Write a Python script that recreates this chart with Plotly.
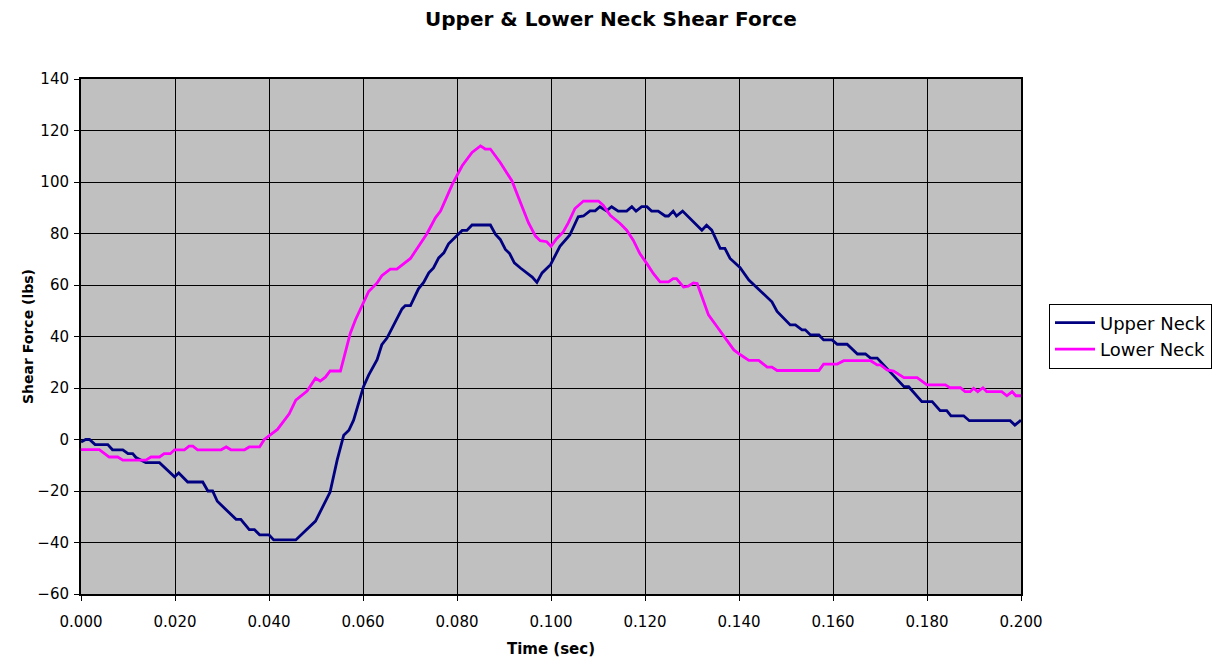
import plotly.graph_objects as go

upper_t = [0.000, 0.001, 0.0018, 0.003, 0.0057, 0.0067, 0.0089, 0.010, 0.011, 0.0117, 0.0138, 0.0167,
           0.0199, 0.0208, 0.0227, 0.0259, 0.027, 0.028, 0.029, 0.033, 0.034, 0.0358, 0.0369, 0.038,
           0.040, 0.041, 0.0457, 0.0499, 0.053, 0.0545, 0.0559, 0.057, 0.058, 0.0601, 0.0612, 0.063,
           0.064, 0.0651, 0.0683, 0.069, 0.0701, 0.0718, 0.0729, 0.074, 0.075, 0.0761, 0.0772, 0.0782,
           0.080, 0.0811, 0.0821, 0.0832, 0.0871, 0.0882, 0.0892, 0.0903, 0.0912, 0.0922, 0.0935, 0.0949,
           0.096, 0.097, 0.0981, 0.0999, 0.1019, 0.104, 0.1058, 0.1069, 0.1083, 0.1094, 0.1104, 0.1118,
           0.1129, 0.1143, 0.1161, 0.1172, 0.1181, 0.1193, 0.1204, 0.1214, 0.1228, 0.1243, 0.125, 0.126,
           0.1267, 0.128, 0.1296, 0.1321, 0.1331, 0.1342, 0.136, 0.137, 0.1381, 0.1402, 0.1421, 0.147,
           0.1481, 0.1509, 0.152, 0.1534, 0.1541, 0.1552, 0.157, 0.158, 0.1598, 0.1609, 0.163, 0.1652,
           0.1669, 0.168, 0.1694, 0.1751, 0.1761, 0.1789, 0.1811, 0.1828, 0.1842, 0.1851, 0.1878, 0.189,
           0.1977, 0.1987, 0.200]
upper_v = [-1, 0, 0, -2, -2, -4, -4, -5.5, -5.5, -7, -9, -9,
           -14.5, -13, -16.5, -16.5, -20, -20, -24, -31, -31, -35, -35, -37,
           -37, -39, -39, -31.7, -20.4, -8, 1.7, 3.6, 7.5, 20.5, 25, 31,
           36.8, 39.4, 50.7, 52, 52, 58.5, 61, 64.7, 66.6, 70.5, 72.5, 76,
           79.2, 81.2, 81.2, 83.3, 83.3, 79.6, 77.7, 73.8, 72.2, 68.6, 66.6, 64.7,
           63.1, 61, 64.7, 67.9, 75, 79.4, 86.5, 86.8, 88.8, 88.8, 90.4, 88.8,
           90.4, 88.7, 88.7, 90.4, 88.7, 90.4, 90.4, 88.7, 88.7, 86.8, 86.8, 88.7,
           86.8, 88.7, 85.8, 81.3, 83.2, 81.3, 74.2, 74.2, 70.3, 66.8, 61.9, 53.5,
           49.7, 44.5, 44.5, 42.6, 42.6, 40.6, 40.6, 38.7, 38.7, 37, 37, 33.2,
           33.2, 31.6, 31.6, 20.5, 20.5, 14.7, 14.7, 11.2, 11.2, 9.2, 9.2, 7.3,
           7.3, 5.6, 7.5]

lower_t = [0.000, 0.0039, 0.006, 0.0078, 0.0089, 0.0138, 0.0149, 0.0167, 0.0177, 0.019, 0.0199, 0.022,
           0.023, 0.0238, 0.0248, 0.0298, 0.0309, 0.0319, 0.0348, 0.0358, 0.038, 0.039, 0.0418, 0.0443,
           0.0457, 0.0481, 0.0499, 0.0509, 0.052, 0.053, 0.0552, 0.0573, 0.0584, 0.0598, 0.0612, 0.063,
           0.064, 0.0658, 0.0672, 0.0701, 0.0718, 0.0736, 0.0754, 0.0765, 0.079, 0.080, 0.0811, 0.0832,
           0.085, 0.086, 0.0871, 0.0892, 0.0917, 0.0935, 0.0952, 0.0967, 0.0977, 0.0991, 0.100, 0.1012,
           0.1026, 0.1037, 0.1051, 0.1069, 0.1101, 0.1111, 0.1126, 0.1147, 0.1161, 0.1175, 0.1189, 0.1204,
           0.1218, 0.1232, 0.125, 0.126, 0.1267, 0.1282, 0.1292, 0.1303, 0.1311, 0.1321, 0.1335, 0.1353,
           0.1371, 0.1389, 0.1403, 0.1421, 0.1442, 0.146, 0.147, 0.1481, 0.157, 0.158, 0.1609, 0.1623,
           0.168, 0.1694, 0.1701, 0.1715, 0.1729, 0.1751, 0.1779, 0.180, 0.1839, 0.1849, 0.1871, 0.1881,
           0.1892, 0.1899, 0.1908, 0.1919, 0.1927, 0.1959, 0.197, 0.1981, 0.1989, 0.200]
lower_v = [-3.9, -3.9, -6.8, -6.8, -8, -8, -6.8, -6.8, -5.5, -5.5, -4, -4,
           -2.6, -2.6, -4, -4, -2.9, -4, -4, -2.9, -2.9, 0, 3.9, 10,
           15.3, 18.8, 23.8, 22.7, 24.2, 26.6, 26.6, 41.3, 46.5, 51.7, 57.5, 60.8,
           63.6, 66.2, 66.2, 70.3, 75, 79.9, 86.1, 88.7, 99.1, 102.4, 106.3, 111.5,
           114, 112.8, 112.8, 107.6, 100.4, 92, 84.2, 79, 77.2, 76.8, 75, 78,
           80.6, 84.2, 89.7, 92.6, 92.6, 91, 87.1, 83.9, 81.3, 77.4, 72.2, 68.3,
           64.4, 61.2, 61.2, 62.5, 62.5, 59.2, 59.5, 60.8, 60.6, 55.5, 48.4, 43.9,
           39.4, 34.8, 32.9, 30.7, 30.7, 28.1, 28.1, 26.8, 26.8, 29.3, 29.3, 30.6,
           30.6, 29, 29, 27, 26.6, 24, 24, 21.2, 21.2, 20.1, 20.1, 18.6,
           18.6, 19.9, 18.6, 20.1, 18.6, 18.6, 17, 18.6, 17, 17]

x_ticks = [0.000, 0.020, 0.040, 0.060, 0.080, 0.100, 0.120, 0.140, 0.160, 0.180, 0.200]
y_ticks = [-60, -40, -20, 0, 20, 40, 60, 80, 100, 120, 140]

FONT = "DejaVu Sans, Liberation Sans, Arial, sans-serif"

W, H = 1206, 650  # page body has an 8px margin
ML, MR, MT, MB = 73, 193, 71, 64
PW = W - ML - MR
PH = H - MT - MB

fig = go.Figure()
fig.add_trace(go.Scatter(x=upper_t, y=upper_v, mode="lines", name="Upper Neck",
                         line=dict(color="#000080", width=2.8)))
fig.add_trace(go.Scatter(x=lower_t, y=lower_v, mode="lines", name="Lower Neck",
                         line=dict(color="#FF00FF", width=2.8)))

fig.update_layout(
    width=W, height=H,
    margin=dict(l=ML, r=MR, t=MT, b=MB, autoexpand=False),
    paper_bgcolor="white",
    plot_bgcolor="#C0C0C0",
    font=dict(family=FONT, size=15, color="black"),
    title=dict(text="<b>Upper & Lower Neck Shear Force</b>", x=0.5, xref="container",
               xanchor="center",
               y=1 - 11 / H, yanchor="middle",
               font=dict(family=FONT, size=20, color="black")),
    legend=dict(x=(1041 - ML) / PW, y=(586 - 328) / PH, xanchor="left", yanchor="middle",
                bgcolor="white", bordercolor="black", borderwidth=1,
                font=dict(family=FONT, size=18, color="black"),
                tracegroupgap=0, itemwidth=40),
    showlegend=True,
)

fig.update_xaxes(
    range=[0, 0.2], tickvals=x_ticks, tickformat=".3f",
    showgrid=True, gridcolor="black", gridwidth=1,
    showline=True, linecolor="black", linewidth=2, mirror=True,
    ticks="outside", ticklen=5, tickcolor="black",
    ticklabelstandoff=8,
    zeroline=False, automargin=False,
    tickfont=dict(family=FONT, size=15),
    title=dict(text="<b>Time (sec)</b>", font=dict(family=FONT, size=15), standoff=18),
)
fig.update_yaxes(
    range=[-60, 140], tickvals=y_ticks,
    showgrid=True, gridcolor="black", gridwidth=1,
    showline=True, linecolor="black", linewidth=2, mirror=True,
    ticks="outside", ticklen=5, tickcolor="black",
    ticklabelstandoff=2,
    zeroline=False, automargin=False,
    tickfont=dict(family=FONT, size=15),
    title=dict(text="<b>Shear Force (lbs)</b>", font=dict(family=FONT, size=14), standoff=0),
)

fig.write_html("out.html")
